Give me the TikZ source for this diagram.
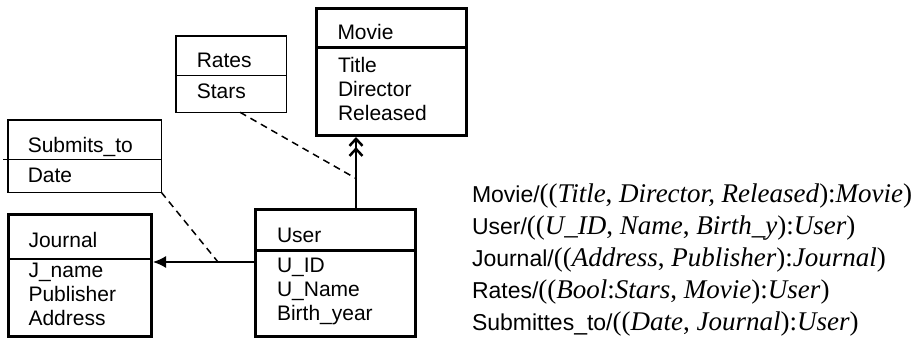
\documentclass[tikz,border=0pt]{standalone}
\usepackage{fontspec}
\setmainfont{Liberation Sans}
\newfontfamily\tms{Liberation Serif}
\usetikzlibrary{arrows.meta,calc,positioning}
\newcommand{\attr}[1]{\textit{#1}}
\newcommand{\sch}[1]{{\tms\fontsize{27}{30}\selectfont #1}}

\begin{document}
\begin{tikzpicture}[
    x=1pt, y=-1pt,
    every node/.style={font=\fontsize{21}{24}\selectfont, inner sep=0, outer sep=0},
    ent/.style={rectangle, draw, line width=3pt, anchor=north west},
    rel/.style={ent, line width=1.5pt},
    hd/.style={anchor=base west},
    attrs/.style={anchor=north west, align=left},
    schema/.style={anchor=base west, font=\fontsize{23}{30}\selectfont},
    link/.style={line width=2pt},
    dashline/.style={line width=1.5pt, dash pattern=on 7pt off 5pt}
]
    \useasboundingbox (0,0) rectangle (915,340);

    % entity and relation frames
    \node[ent, minimum width=150, minimum height=127] (movie) at (316.5,8.5) {};
    \node[rel, minimum width=110.5, minimum height=76.5] (rates) at (175.75,35.75) {};
    \node[rel, minimum width=153.5, minimum height=72.5] (submits) at (7.75,119.75) {};
    \node[ent, minimum width=143, minimum height=122] (journal) at (8.5,214.5) {};
    \node[ent, minimum width=160, minimum height=127] (user) at (255.5,209.5) {};

    % dividers
    \draw[line width=3pt] ($(movie.north west)+(0,38.5)$) -- ($(movie.north east)+(0,38.5)$);
    \draw[line width=1.5pt] ($(rates.north west)+(0,39.5)$) -- ($(rates.north east)+(0,39.5)$);
    \draw[line width=1.5pt] ($(submits.north west)+(-4.5,39.5)$) -- ($(submits.north east)+(0,39.5)$);
    \draw[line width=1.5pt] ($(journal.north west)+(0,44.5)$) -- ($(journal.north east)+(0,44.5)$);
    \draw[line width=3pt] ($(user.north west)+(0,40.5)$) -- ($(user.north east)+(0,40.5)$);

    % names
    \node[hd] (movieN) at ($(movie.north west)+(21,30.5)$) {Movie};
    \node[hd] (ratesN) at ($(rates.north west)+(21,31.5)$) {Rates};
    \node[hd] (submitsN) at ($(submits.north west)+(20,32.5)$) {Submits\_to};
    \node[hd] (journalN) at ($(journal.north west)+(20,32.5)$) {Journal};
    \node[hd] (userN) at ($(user.north west)+(21.5,32.5)$) {User};

    % attributes
    \node[attrs] (movieA) at ($(movie.north west)+(21.5,48.5)$) {Title\\Director\\Released};
    \node[attrs] (ratesA) at ($(rates.north west)+(21,48.5)$) {Stars};
    \node[attrs] (submitsA) at ($(submits.north west)+(20,48.5)$) {Date};
    \node[attrs] (journalA) at ($(journal.north west)+(20,48.5)$) {J\_name\\Publisher\\Address};
    \node[attrs] (userA) at ($(user.north west)+(21.5,48.5)$) {U\_ID\\U\_Name\\Birth\_year};

    % links
    \coordinate (mjoin) at ($(user.north)+(20.5,0)$);
    \coordinate (rjoin) at ($(mjoin)+(0,-31)$);
    \coordinate (ujoin) at ($(user.west)+(0,-11)$);
    \coordinate (sjoin) at ($(ujoin)+(-37.5,0)$);
    \draw[link, shorten >=1.5pt, -{Straight Barb[length=7pt,width=13pt,line width=2.5pt] Straight Barb[length=7pt,width=13pt,line width=2.5pt]}] (mjoin) -- (mjoin |- movie.south);
    \draw[link, line width=1.5pt, shorten >=1.5pt, -{Latex[length=13pt,width=12pt]}] (ujoin) -- (ujoin -| journal.east);
    \draw[dashline] ($(rates.south)+(9,0)$) -- (rjoin);
    \draw[dashline] (submits.south east) -- (sjoin);

    % schema lines
    \node[schema] (sMovie) at (472,202) {Movie/\sch{((\attr{Title}, \attr{Director, Released}):\attr{Movie})}};
    \node[schema] (sUser) at (472,234) {User/\sch{((\attr{U\_ID}, \attr{Name}, \attr{Birth\_y}):\attr{User})}};
    \node[schema] (sJournal) at (472,266) {Journal/\sch{((\attr{Address}, \attr{Publisher}):\attr{Journal})}};
    \node[schema] (sRates) at (472,298) {Rates/\sch{((\attr{Bool}:\attr{Stars}, \attr{Movie}):\attr{User})}};
    \node[schema] (sSubmits) at (472,330) {Submittes\_to/\sch{((\attr{Date}, \attr{Journal}):\attr{User})}};
\end{tikzpicture}
\end{document}
